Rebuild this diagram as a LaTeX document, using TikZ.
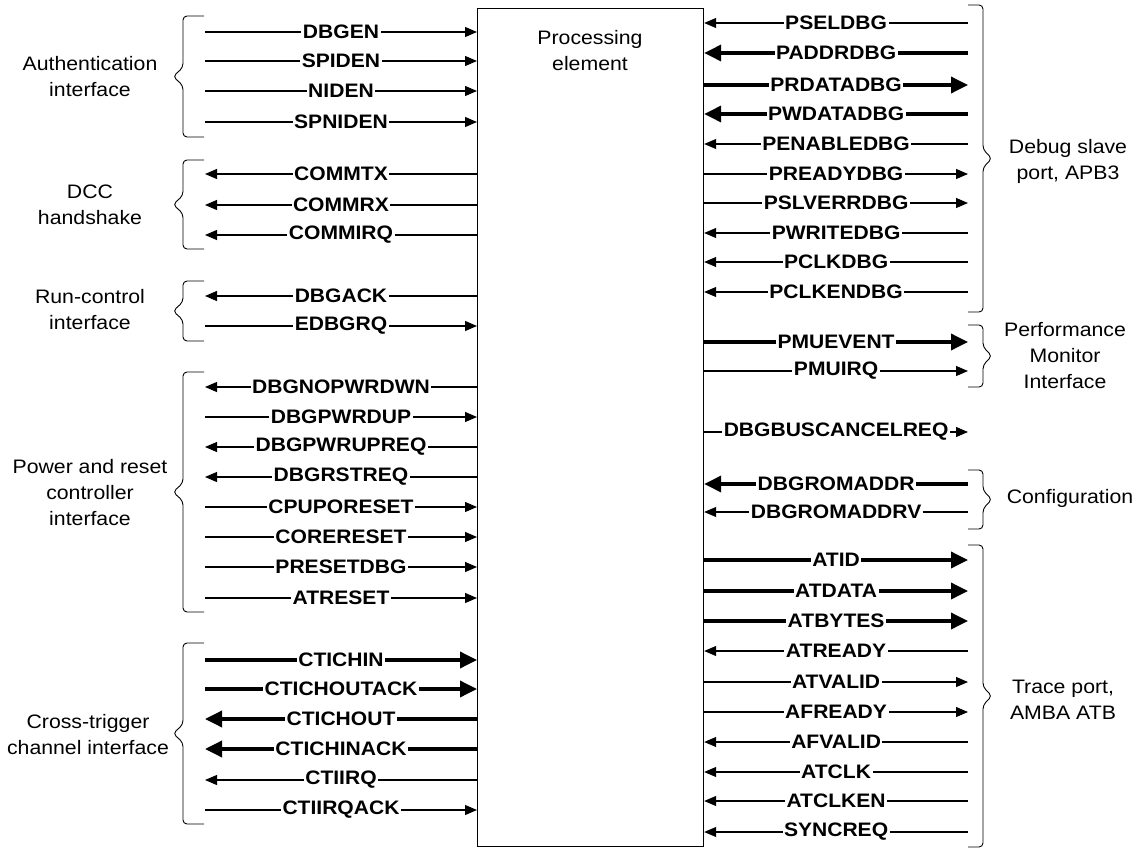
\documentclass[tikz,border=0pt]{standalone}
\usepackage{fontspec}
\setmainfont{Liberation Sans}[FakeStretch=1.09]
\newfontfamily\sigfont{Liberation Sans Bold}[FakeStretch=1.08]
\usetikzlibrary{arrows.meta,calc}

\begin{document}
\begin{tikzpicture}[x=1pt,y=-1pt]

    \tikzset{
      fwd/.style={line width=1.1pt, -{Triangle[length=12pt,width=10pt]}},
      bwd/.style={line width=1.1pt, {Triangle[length=12pt,width=10pt]}-},
      busfwd/.style={line width=3.5pt, -{Triangle[length=17pt,width=16pt]}},
      busbwd/.style={line width=3.5pt, {Triangle[length=17pt,width=16pt]}-},
      sig/.style={fill=white, inner xsep=1.5pt, inner ysep=0pt, font=\sigfont\fontsize{19.5}{22}\selectfont},
      grp/.style={align=center, font=\fontsize{19.5}{26}\selectfont},
      brc/.style={line width=0.9pt, rounded corners=4pt},
    }
    \useasboundingbox (0,0) rectangle (1146,848);

    \node[draw, line width=1.2pt, minimum width=226pt, minimum height=838pt, inner sep=0pt, anchor=north west] (pe) at (477,8) {};
    \node[grp] (pelbl) at (590,51) {Processing\\element};

    % left side
    \foreach \y/\s/\st [count=\i] in {32/DBGEN/fwd, 61/SPIDEN/fwd, 91/NIDEN/fwd, 122/SPNIDEN/fwd,
        174/COMMTX/bwd, 205/COMMRX/bwd, 235/COMMIRQ/bwd, 296/DBGACK/bwd, 326/EDBGRQ/fwd,
        387/DBGNOPWRDWN/bwd, 417/DBGPWRDUP/fwd, 447/DBGPWRUPREQ/bwd, 477/DBGRSTREQ/bwd,
        507/CPUPORESET/fwd, 537/CORERESET/fwd, 567/PRESETDBG/fwd, 598/ATRESET/fwd,
        660/CTICHIN/busfwd, 689/CTICHOUTACK/busfwd, 719/CTICHOUT/busbwd, 749/CTICHINACK/busbwd,
        780/CTIIRQ/bwd, 810/CTIIRQACK/fwd} {
      \coordinate (l\i) at (205,\y);
      \draw[\st] (l\i) -- (pe.west |- l\i) node[midway,sig] (ls\i) {\s};
    }

    % right side
    \foreach \y/\s/\st [count=\i] in {23/PSELDBG/bwd, 53/PADDRDBG/busbwd, 85/PRDATADBG/busfwd, 114/PWDATADBG/busbwd,
        144/PENABLEDBG/bwd, 174/PREADYDBG/fwd, 203/PSLVERRDBG/fwd, 233/PWRITEDBG/bwd, 262/PCLKDBG/bwd,
        292/PCLKENDBG/bwd, 342/PMUEVENT/busfwd, 371/PMUIRQ/fwd, 432/DBGBUSCANCELREQ/fwd,
        484/DBGROMADDR/busbwd, 512/DBGROMADDRV/bwd, 560/ATID/busfwd, 591/ATDATA/busfwd, 621/ATBYTES/busfwd,
        651/ATREADY/bwd, 682/ATVALID/fwd, 712/AFREADY/fwd, 742/AFVALID/bwd, 772/ATCLK/bwd,
        801/ATCLKEN/bwd, 832/SYNCREQ/bwd} {
      \coordinate (r\i) at (968,\y);
      \draw[\st] (pe.east |- r\i) -- (r\i) node[midway,sig] (rs\i) {\s};
    }

    \foreach \t/\b in {16/137, 160/249, 281/341, 372/612, 643/824}
      \draw[brc] (204,\t) -- (183,\t) -- (183,{(\t+\b)/2-9}) -- (173,{(\t+\b)/2}) -- (183,{(\t+\b)/2+9}) -- (183,\b) -- (204,\b);
    \foreach \t/\b in {5/312, 325/387, 470/529, 545/847}
      \draw[brc] (968,\t) -- (983,\t) -- (983,{(\t+\b)/2-9}) -- (992,{(\t+\b)/2}) -- (983,{(\t+\b)/2+9}) -- (983,\b) -- (968,\b);

    \node[grp] (auth) at (90,77) {Authentication\\interface};
    \node[grp] (dcc) at (90,205) {DCC\\handshake};
    \node[grp] (runctl) at (90,310) {Run-control\\interface};
    \node[grp] (pwr) at (90,493) {Power and reset\\controller\\interface};
    \node[grp] (cti) at (88,735) {Cross-trigger\\channel interface};
    \node[grp] (apb) at (1068,161) {Debug slave\\port, APB3};
    \node[grp] (pmu) at (1065,356) {Performance\\Monitor\\Interface};
    \node[grp] (cfg) at (1070,498) {Configuration};
    \node[grp] (atb) at (1063,700) {Trace port,\\AMBA ATB};

\end{tikzpicture}
\end{document}
